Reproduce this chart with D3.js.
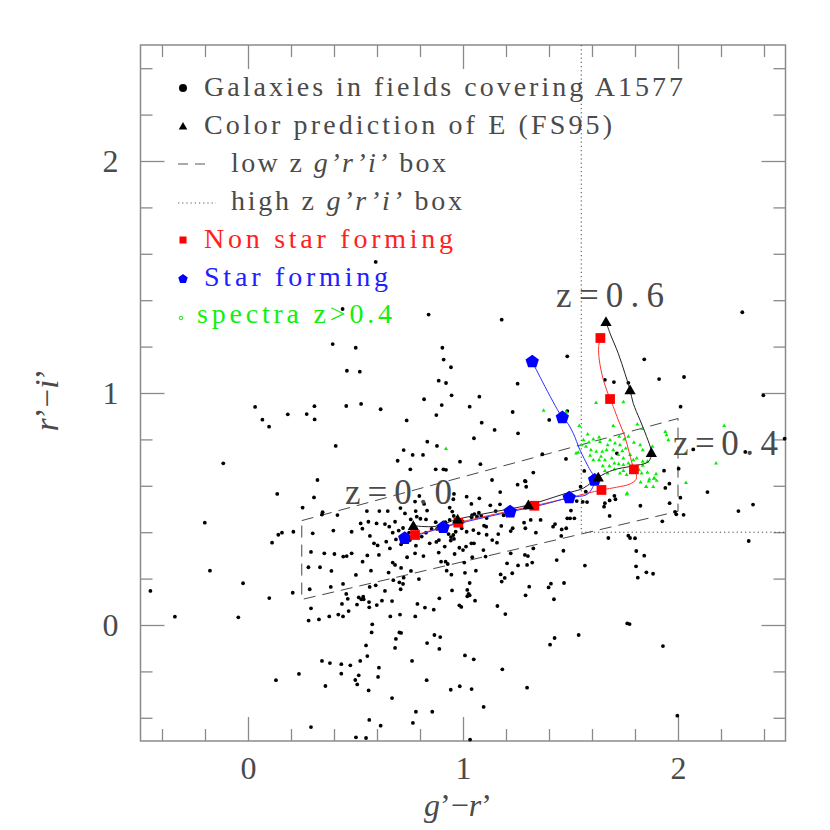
<!DOCTYPE html>
<html><head><meta charset="utf-8">
<script src="https://cdn.jsdelivr.net/npm/d3@7"></script>
<style>body{margin:0;background:#fff}</style>
</head><body><div id="chart"></div>
<script>
// ---------- DATA ----------
const galaxies = [
[0.594,1.565],[0.440,1.362],[0.840,1.338],[0.394,1.211],[0.501,1.195],[0.904,1.195],[0.910,1.144],[0.944,1.111],[0.460,1.096],[0.520,1.092],[0.887,1.053],[0.921,1.043],
[1.180,1.316],[2.299,1.348],[1.485,1.158],[1.843,1.145],[1.254,1.040],[1.660,1.057],[1.702,1.047],[1.769,1.044],[1.912,1.060],[2.028,1.069],
[2.012,0.941],[1.485,0.922],[1.401,0.884],[1.369,0.736],[1.479,0.716],[1.327,0.657],[1.288,0.621],[1.935,0.665],[2.137,0.573],[2.281,0.491],
[2.071,0.757],[1.716,0.740],[1.564,0.664],[2.003,0.674],[1.960,0.609],[1.941,0.591],[1.547,0.596],[1.571,0.575],[1.529,0.534],[1.557,0.531],[1.577,0.530],[1.682,0.537],[1.704,0.557],[1.709,0.542],[1.660,0.525],[1.656,0.510],[1.825,0.514],[1.961,0.525],[1.986,0.488],[1.992,0.477],[2.026,0.475],[1.927,0.447],[1.682,0.470],[1.485,0.460],[1.498,0.460],[1.518,0.460],[1.502,0.493],[1.459,0.412],[1.676,0.375],[1.769,0.385],[1.777,0.375],[1.800,0.374],[1.457,0.384],
[2.397,0.990],[2.496,0.803],[2.313,0.746],[2.011,0.549],[2.349,0.519],[1.806,0.319],[1.843,0.299],[1.805,0.253],[1.853,0.227],[1.884,0.221],[1.813,0.204],[2.329,0.362],[1.930,-0.091],[1.997,-0.391],
[0.033,0.940],[0.185,0.908],[0.067,0.885],[0.098,0.855],[-0.115,0.697],[0.136,0.565],[-0.201,0.441],[0.141,0.389],[0.158,0.398],[0.112,0.355],[-0.177,0.234],[-0.023,0.180],[-0.454,0.147],[0.099,0.116],[-0.340,0.036],[-0.045,0.033],[0.130,-0.238],
[0.388,0.233],[0.502,0.216],[0.654,0.226],[0.924,0.234],[0.946,0.217],[1.009,0.225],[0.208,0.139],[0.287,0.154],[0.385,0.164],[0.442,0.177],[0.457,0.134],[0.464,0.113],[0.437,0.091],[0.566,0.164],[0.594,0.171],[0.637,0.147],[0.676,0.193],[0.704,0.184],[0.721,0.177],[0.724,0.204],[0.795,0.198],[0.710,0.154],[0.515,0.119],[0.527,0.111],[0.538,0.111],[0.536,0.122],[0.563,0.099],[0.507,0.088],[0.564,0.076],[0.599,0.086],[0.623,0.105],[0.670,0.103],[0.468,0.060],[0.293,0.072],[0.282,0.019],[0.330,0.024],[0.378,0.037],[0.420,0.045],[0.442,0.037],[0.662,0.037],[0.707,0.045],[0.778,0.037],[0.788,0.091],[0.823,0.075],[0.864,0.066],[0.890,0.115],[0.949,0.149],[1.031,0.181],[1.020,0.151],[1.026,0.134],[1.031,0.128],[1.020,0.124],[1.056,0.105],[0.983,0.085],[0.992,0.078],[1.180,0.187],[1.160,0.082],[1.197,0.047],[1.291,0.128],[1.308,0.165],[1.398,0.162],[1.409,0.178],[1.470,0.181],[1.423,0.111],[1.764,0.007],[1.775,0.004],[1.538,-0.043],[1.426,-0.056],[1.405,-0.085],[0.578,0.003],[0.575,-0.032],[0.704,-0.032],[0.712,-0.034],[0.688,-0.060],[0.549,-0.088],[0.684,-0.099],[0.867,-0.043],[0.894,-0.052],[0.833,-0.078],[0.890,-0.103],[1.009,-0.131],[1.050,-0.148],[0.555,-0.134],[0.522,-0.155],[0.344,-0.155],[0.381,-0.164],[0.434,-0.169],[0.476,-0.174],[0.434,-0.210],[0.515,-0.217],[0.499,-0.237],[0.508,-0.256],[0.609,-0.184],[0.605,-0.224],[0.237,-0.211],[0.360,-0.263],[0.561,-0.282],[0.763,-0.155],[0.831,-0.238],[0.670,-0.315],[0.943,-0.279],[0.985,-0.264],[1.040,-0.276],[1.183,-0.191],[1.298,-0.270],[1.096,-0.353],[0.781,-0.374],[0.857,-0.374],[0.564,-0.409],[0.617,-0.434],[0.767,-0.422],[0.293,-0.440],[0.502,-0.484],[0.549,-0.487],[1.033,-0.494],
[0.819,0.973],[0.947,0.990],[1.076,0.984],[0.309,0.943],[0.457,0.944],[0.526,0.953],[0.617,0.930],[0.901,0.948],[1.031,0.941],[0.273,0.909],[0.310,0.886],[0.738,0.882],[0.876,0.905],[1.087,0.872],[1.231,0.918],[1.147,0.841],[1.256,0.826],[1.051,0.805],[0.834,0.790],[0.408,0.772],[0.879,0.772],[0.724,0.754],[0.766,0.733],[0.814,0.733],[0.696,0.708],[0.986,0.704],[1.081,0.693],[0.755,0.671],[0.873,0.671],[0.909,0.671],[0.921,0.669],[0.323,0.625],[1.135,0.625],[1.291,0.619],[1.254,0.605],[1.294,0.596],[1.173,0.573],[0.307,0.550],[0.958,0.565],[0.797,0.556],[1.017,0.553],[1.076,0.546],[0.955,0.542],[0.777,0.532],[0.819,0.522],[1.039,0.522],[1.127,0.516],[1.172,0.520],[0.254,0.506],[0.347,0.486],[0.344,0.476],[0.553,0.491],[0.611,0.491],[0.650,0.491],[0.709,0.504],[0.730,0.481],[0.780,0.491],[0.785,0.467],[0.833,0.493],[0.938,0.506],[0.950,0.489],[0.957,0.470],[1.042,0.474],[1.053,0.478],[1.074,0.484],[1.085,0.470],[1.110,0.461],[1.152,0.491],[1.189,0.473],[1.291,0.506],[0.416,0.474],[0.524,0.438],[0.560,0.445],[0.598,0.438],[0.637,0.435],[0.684,0.445],[0.757,0.455],[0.802,0.458],[0.828,0.455],[0.873,0.443],[0.918,0.443],[0.938,0.453],[0.999,0.445],[1.040,0.464],[1.065,0.467],[1.098,0.428],[1.108,0.424],[1.178,0.427],[1.231,0.417],[1.284,0.441],[1.315,0.453],[1.361,0.453],[1.428,0.435],[0.211,0.402],[0.301,0.395],[0.397,0.407],[0.482,0.402],[0.532,0.415],[0.657,0.424],[0.673,0.398],[0.701,0.407],[0.721,0.418],[0.749,0.398],[0.828,0.398],[0.854,0.414],[0.879,0.414],[0.933,0.392],[0.944,0.379],[0.955,0.388],[0.966,0.402],[0.994,0.417],[1.017,0.402],[1.048,0.409],[1.073,0.395],[1.110,0.389],[1.164,0.392],[1.222,0.405],[1.290,0.417],[1.339,0.398],[1.419,0.424],[1.480,0.417],[0.567,0.384],[0.586,0.352],[0.603,0.343],[0.643,0.359],[0.660,0.330],[0.688,0.369],[0.712,0.348],[0.753,0.366],[0.781,0.342],[0.808,0.381],[0.845,0.352],[0.876,0.358],[0.888,0.366],[0.915,0.338],[0.943,0.364],[0.958,0.371],[0.983,0.333],[1.000,0.323],[1.014,0.338],[1.039,0.352],[1.051,0.352],[1.095,0.323],[1.136,0.366],[1.158,0.355],[1.222,0.309],[1.288,0.302],[1.327,0.330],[1.467,0.320],[0.293,0.315],[0.355,0.309],[0.402,0.306],[0.443,0.295],[0.459,0.297],[0.482,0.309],[0.533,0.273],[0.555,0.300],[0.609,0.302],[0.673,0.269],[0.684,0.259],[0.740,0.292],[0.777,0.309],[0.816,0.297],[0.887,0.312],[0.898,0.273],[0.919,0.273],[0.929,0.263],[0.961,0.306],[1.006,0.269],[1.043,0.292],[1.105,0.295],[1.205,0.266],[1.256,0.257],[1.298,0.259],[1.302,0.297],[1.322,0.269],[1.436,0.280],[1.567,0.256],[0.281,0.249],[0.335,0.249],[0.572,0.234],[0.712,0.246],[0.758,0.233],[1.060,0.234],[1.175,0.218],[1.194,0.203],[1.229,0.223]
];

const spectra = [
[1.619,0.958],[1.746,0.961],[1.541,0.858],[1.699,0.858],[1.580,0.822],[1.606,0.800],[1.633,0.809],[1.560,0.797],[1.586,0.787],[1.684,0.797],[1.727,0.812],[1.750,0.800],[1.769,0.812],[1.707,0.783],[1.730,0.776],[1.637,0.790],[1.673,0.776],[1.552,0.776],[1.572,0.769],[1.595,0.754],[1.620,0.747],[1.648,0.747],[1.668,0.754],[1.699,0.754],[1.741,0.750],[1.757,0.761],[1.824,0.776],[1.836,0.754],[1.536,0.743],[1.642,0.726],[1.633,0.711],[1.660,0.711],[1.692,0.718],[1.723,0.733],[1.746,0.718],[1.777,0.733],[1.591,0.730],[1.606,0.711],[1.704,0.697],[1.724,0.694],[1.746,0.690],[1.769,0.697],[1.808,0.718],[1.836,0.704],[1.858,0.704],[1.650,0.685],[1.681,0.685],[1.704,0.671],[1.730,0.654],[1.746,0.665],[1.819,0.668],[1.831,0.654],[1.858,0.657],[1.867,0.628],[1.901,0.622],[1.890,0.632],[1.885,0.596],[1.851,0.596],[1.761,0.647],[1.673,0.654],[1.660,0.665],[1.808,0.678],[1.792,0.664],[1.761,0.563],[1.526,0.740],
[1.375,0.924],[1.482,0.917],[0.921,0.759],[2.215,0.858],[2.177,0.697],[2.034,0.740],[1.941,0.833],[1.947,0.819],[1.955,0.797],[1.811,0.865],[1.834,0.845],[1.795,0.786],[1.881,0.769],[1.792,0.711],[1.836,0.687],[1.898,0.651],[1.888,0.631],[1.864,0.619],[1.853,0.595],[2.037,0.613],[1.805,0.661],[1.764,0.568],[1.826,0.615]
];

// Model tracks (FS95), z = 0.0 ... 0.6
const zSteps = [0.0,0.1,0.2,0.3,0.4,0.5,0.6];
const eGR  = [0.769,0.975,1.304,1.629,1.876,1.777,1.665];
const eRI  = [0.428,0.456,0.517,0.637,0.743,1.013,1.307];
const nsfGR = [0.777,0.978,1.332,1.644,1.795,1.684,1.639];
const nsfRI = [0.388,0.441,0.514,0.582,0.671,0.974,1.237];
const sfGR = [0.729,0.908,1.219,1.494,1.612,1.462,1.322];
const sfRI = [0.374,0.421,0.488,0.549,0.625,0.894,1.135];

// finely sampled track curves
const eCurve = [[0.769,0.428],[0.87,0.425],[0.975,0.456],[1.14,0.487],[1.304,0.517],[1.47,0.565],[1.56,0.59],[1.629,0.637],[1.699,0.668],[1.780,0.684],[1.862,0.704],[1.876,0.743],[1.854,0.812],[1.823,0.884],[1.792,0.955],[1.777,1.013],[1.753,1.085],[1.722,1.171],[1.684,1.257],[1.665,1.307]];
const nsfCurve = [[0.777,0.388],[0.87,0.412],[0.978,0.441],[1.15,0.478],[1.332,0.514],[1.50,0.550],[1.644,0.582],[1.715,0.594],[1.777,0.608],[1.805,0.628],[1.805,0.654],[1.795,0.671],[1.774,0.740],[1.753,0.812],[1.722,0.884],[1.699,0.941],[1.684,0.974],[1.653,1.056],[1.634,1.142],[1.631,1.200],[1.639,1.237]];
const sfCurve = [[0.729,0.374],[0.82,0.396],[0.908,0.421],[1.06,0.455],[1.219,0.488],[1.36,0.516],[1.494,0.549],[1.58,0.565],[1.612,0.625],[1.583,0.682],[1.544,0.754],[1.513,0.826],[1.482,0.876],[1.462,0.894],[1.322,1.135]];

const lowBoxGR = [0.25,2.0,2.0,0.25,0.25];
const lowBoxRI = [0.45,0.89,0.49,0.11,0.45];
const highBoxGR = [1.55,1.55,2.5];
const highBoxRI = [2.5,0.4,0.4];

const xMajor = [0,1,2];
const xMinor = [-0.4,-0.2,0.2,0.4,0.6,0.8,1.2,1.4,1.6,1.8,2.2,2.4];
const yMajor = [0,1,2];
const yMinor = [-0.4,-0.2,0.2,0.4,0.6,0.8,1.2,1.4,1.6,1.8,2.2,2.4];
const tickLabels = ["0","1","2"];

const legendLabels = ["Galaxies in fields covering A1577","Color prediction of E (FS95)","low z |g’r’i’| box","high z |g’r’i’| box","Non star forming","Star forming","spectra z>0.4"];
const zLabels = ["z=0.0","z=0.4","z=0.6"];

// ---------- DRAW ----------
const W=830,H=830;
const svg=d3.select("#chart").append("svg").attr("width",W).attr("height",H);
svg.append("rect").attr("width",W).attr("height",H).attr("fill","#fff");
const x=d3.scaleLinear().domain([-0.5,2.5]).range([140.5,785.5]);
const y=d3.scaleLinear().domain([-0.5,2.5]).range([741,45]);
const FONT="'Liberation Serif','DejaVu Serif',serif";
const AX="#8a8a8a", TXT="#4a4a4a";

function ticks(axisFn, scale, vals, len, tr){
  const g=svg.append("g").attr("transform",tr).call(axisFn(scale).tickValues(vals).tickSize(len).tickFormat(""));
  g.select(".domain").remove();
  g.selectAll("line").attr("stroke",AX).attr("stroke-width",1.3);
  return g;
}
ticks(d3.axisBottom,x,xMinor,-12,"translate(0,741)");
ticks(d3.axisBottom,x,xMajor,-24,"translate(0,741)");
ticks(d3.axisTop,x,xMinor,-12,"translate(0,45)");
ticks(d3.axisTop,x,xMajor,-24,"translate(0,45)");
ticks(d3.axisLeft,y,yMinor,-12,"translate(140.5,0)");
ticks(d3.axisLeft,y,yMajor,-24,"translate(140.5,0)");
ticks(d3.axisRight,y,yMinor,-12,"translate(785.5,0)");
ticks(d3.axisRight,y,yMajor,-24,"translate(785.5,0)");

const gxl=svg.append("g").attr("transform","translate(0,741)")
  .call(d3.axisBottom(x).tickValues(xMajor).tickSize(0).tickPadding(15).tickFormat((d,i)=>tickLabels[i]));
gxl.select(".domain").remove();
gxl.selectAll("text").attr("font-family",FONT).attr("font-size",32).attr("fill",TXT);
const gyl=svg.append("g").attr("transform","translate(140.5,0)")
  .call(d3.axisLeft(y).tickValues(yMajor).tickSize(0).tickPadding(22).tickFormat((d,i)=>tickLabels[i]));
gyl.select(".domain").remove();
gyl.selectAll("text").attr("font-family",FONT).attr("font-size",32).attr("fill",TXT);

svg.append("rect").attr("x",x(-0.5)).attr("y",y(2.5)).attr("width",x(2.5)-x(-0.5)).attr("height",y(-0.5)-y(2.5))
  .attr("fill","none").attr("stroke",AX).attr("stroke-width",1.5);

const xt=svg.append("text").attr("x",458).attr("y",816).attr("text-anchor","middle")
  .attr("font-family",FONT).attr("font-size",32).attr("fill",TXT);
xt.append("tspan").attr("font-style","italic").text("g");
xt.append("tspan").text("’−");
xt.append("tspan").attr("font-style","italic").text("r");
xt.append("tspan").text("’");
const yt=svg.append("text").attr("transform","translate(58,400) rotate(-90)").attr("text-anchor","middle")
  .attr("font-family",FONT).attr("font-size",33).attr("fill",TXT);
yt.append("tspan").attr("font-style","italic").text("r");
yt.append("tspan").text("’−");
yt.append("tspan").attr("font-style","italic").text("i");
yt.append("tspan").text("’");

const plot=svg.append("g");
const lineXY=d3.line().x(d=>x(d[0])).y(d=>y(d[1]));
plot.append("path").attr("d",lineXY(lowBoxGR.map((v,i)=>[v,lowBoxRI[i]])))
  .attr("fill","none").attr("stroke","#333").attr("stroke-width",0.9).attr("stroke-dasharray","12,7");
plot.append("path").attr("d",lineXY(highBoxGR.map((v,i)=>[v,highBoxRI[i]])))
  .attr("fill","none").attr("stroke","#444").attr("stroke-width",1).attr("stroke-dasharray","1.2,3");

plot.selectAll("circle.gal").data(galaxies).join("circle").attr("class","gal")
  .attr("cx",d=>x(d[0])).attr("cy",d=>y(d[1])).attr("r",1.9).attr("fill","#000");

const triSmall=d3.symbol().type(d3.symbolTriangle).size(7);
plot.selectAll("path.spec").data(spectra).join("path").attr("class","spec")
  .attr("d",triSmall).attr("transform",d=>`translate(${x(d[0])},${y(d[1])})`).attr("fill","#00f000");

const curve=d3.line().x(d=>x(d[0])).y(d=>y(d[1])).curve(d3.curveCatmullRom.alpha(0.5));
plot.append("path").attr("d",curve(eCurve)).attr("fill","none").attr("stroke","#222").attr("stroke-width",1);
plot.append("path").attr("d",curve(nsfCurve)).attr("fill","none").attr("stroke","#ff3030").attr("stroke-width",1);
plot.append("path").attr("d",curve(sfCurve)).attr("fill","none").attr("stroke","#3030ff").attr("stroke-width",1);

function pentagon(r){
  const pts=d3.range(5).map(k=>{const a=-Math.PI/2+k*2*Math.PI/5;return [r*Math.cos(a),r*Math.sin(a)];});
  return "M"+pts.map(p=>p.join(",")).join("L")+"Z";
}
plot.selectAll("path.sf").data(zSteps).join("path").attr("class","sf")
  .attr("d",pentagon(7)).attr("transform",(d,i)=>`translate(${x(sfGR[i])},${y(sfRI[i])})`).attr("fill","#0000ff");
plot.selectAll("path.nsf").data(zSteps).join("path").attr("class","nsf")
  .attr("d",d3.symbol().type(d3.symbolSquare).size(95)).attr("transform",(d,i)=>`translate(${x(nsfGR[i])},${y(nsfRI[i])})`).attr("fill","#ff0000");
plot.selectAll("path.e").data(zSteps).join("path").attr("class","e")
  .attr("d",d3.symbol().type(d3.symbolTriangle).size(55)).attr("transform",(d,i)=>`translate(${x(eGR[i])},${y(eRI[i]) + 1})`).attr("fill","#000");

const zPos=[[0.451,0.522],[1.977,0.733],[1.433,1.371]];
const zLen=[107,105,108];
zLabels.forEach((t,i)=>{
  svg.append("text").attr("x",x(zPos[i][0])).attr("y",y(zPos[i][1]))
    .attr("font-family",FONT).attr("font-size",35).attr("fill",TXT)
    .attr("textLength",zLen[i]).attr("lengthAdjust","spacing").text(t);
});

const lg=svg.append("g");
const rowsY=[96,134,172,210,248,286,323];
const txtX=[204,204,231,231,204,204,197];
const txtLen=[479,408,215,231,249,184,195];
const txtCol=[TXT,TXT,TXT,TXT,"#ff2020","#2020ff","#10f010"];
legendLabels.forEach((lab,i)=>{
  const t=lg.append("text").attr("x",txtX[i]).attr("y",rowsY[i]).attr("font-family",FONT).attr("font-size",28)
    .attr("fill",txtCol[i]).attr("textLength",txtLen[i]).attr("lengthAdjust","spacing");
  lab.split("|").forEach((p,k)=>{ t.append("tspan").attr("font-style",k===1?"italic":null).text(p); });
});
lg.append("path").attr("d",d3.symbol().type(d3.symbolCircle).size(50)).attr("transform","translate(183,88)").attr("fill","#000");
lg.append("path").attr("d",d3.symbol().type(d3.symbolTriangle).size(32)).attr("transform","translate(183,127)").attr("fill","#000");
lg.append("line").attr("x1",178).attr("x2",212).attr("y1",164).attr("y2",164).attr("stroke","#555").attr("stroke-width",1).attr("stroke-dasharray","10,7");
lg.append("line").attr("x1",178).attr("x2",216).attr("y1",203).attr("y2",203).attr("stroke","#555").attr("stroke-width",1).attr("stroke-dasharray","1.2,3");
lg.append("rect").attr("x",179.5).attr("y",236.5).attr("width",7).attr("height",7).attr("fill","#ff0000");
lg.append("path").attr("d",pentagon(5)).attr("transform","translate(183,279)").attr("fill","#0000ff");
lg.append("circle").attr("cx",181).attr("cy",318).attr("r",1.8).attr("fill","none").attr("stroke","#10f010").attr("stroke-width",1);
</script>
</body></html>
